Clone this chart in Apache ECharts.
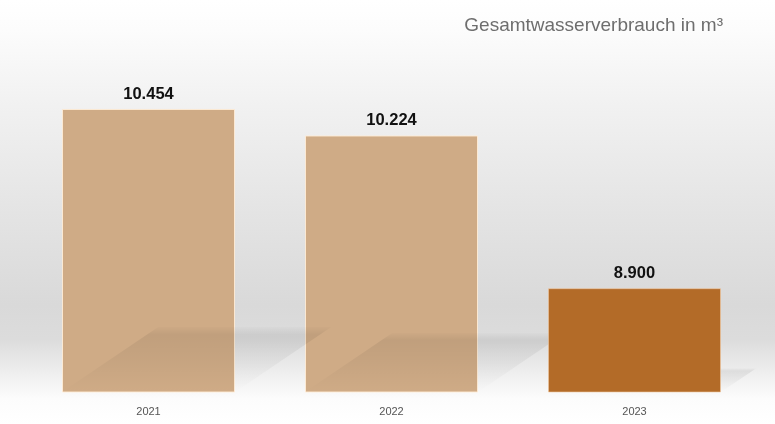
<!DOCTYPE html>
<html>
<head>
<meta charset="utf-8">
<script src="https://cdn.jsdelivr.net/npm/echarts@6/dist/echarts.min.js"></script>
<style>
html,body{margin:0;padding:0;background:#fff;}
#chart{width:775px;height:424px;}
</style>
</head>
<body>
<div id="chart"></div>
<script>
var categories = ['2021', '2022', '2023'];
var values = [10454, 10224, 8900];
var highlightIndex = 2;
var titleText = 'Gesamtwasserverbrauch in m³';
var yMin = 8000;
var yMax = 11000;

function fmt(v) { return String(v).replace(/\B(?=(\d{3})+(?!\d))/g, '.'); }

var lightData = values.map(function (v, i) { return i === highlightIndex ? '-' : v; });
var darkData = values.map(function (v, i) { return i === highlightIndex ? v : '-'; });
var pairData = values.map(function (v, i) { return [i, v]; });

var BAR_RATIO = 173 / 243;

var chart = echarts.init(document.getElementById('chart'), null, { renderer: 'canvas' });
chart.setOption({
  animation: false,
  backgroundColor: {
    type: 'linear', x: 0, y: 0, x2: 0, y2: 1,
    colorStops: [
      { offset: 0, color: '#ffffff' },
      { offset: 0.07, color: '#fcfcfc' },
      { offset: 0.25, color: '#f1f1f1' },
      { offset: 0.5, color: '#e4e4e4' },
      { offset: 0.72, color: '#d9d9d9' },
      { offset: 0.8, color: '#dcdcdc' },
      { offset: 0.9, color: '#f3f3f3' },
      { offset: 0.94, color: '#fcfcfc' },
      { offset: 1, color: '#ffffff' }
    ]
  },
  title: {
    text: titleText,
    right: 47,
    top: 11,
    textStyle: { fontFamily: 'Liberation Sans, Arial, sans-serif', fontSize: 19, fontWeight: 'normal', color: '#6e6e6e' }
  },
  grid: { left: 27, right: 19, top: 46, bottom: 32 },
  xAxis: {
    type: 'category',
    data: categories,
    axisLine: { show: false },
    axisTick: { show: false },
    axisLabel: { color: '#555', fontSize: 11, margin: 14, fontFamily: 'Liberation Sans, Arial, sans-serif' }
  },
  yAxis: {
    type: 'value', min: yMin, max: yMax, show: false,
    splitLine: { show: false }
  },
  series: [
    {
      type: 'bar',
      data: lightData,
      barWidth: (BAR_RATIO * 100) + '%',
      z: 2,
      itemStyle: { color: '#cfab86', borderColor: 'rgba(255,236,214,0.9)', borderWidth: 1 }
    },
    {
      type: 'custom',
      data: pairData,
      z: 3,
      silent: true,
      renderItem: function (params, api) {
        var i = api.value(0), v = api.value(1);
        var top = api.coord([i, v]);
        var base = api.coord([i, yMin]);
        var w = api.size([1, 0])[0] * BAR_RATIO;
        var h = base[1] - top[1];
        var dy = 0.23 * h, dx = 0.34 * h;
        var x0 = base[0] - w / 2, x1 = base[0] + w / 2, yb = base[1];
        return {
          type: 'polygon',
          shape: { points: [[x0, yb], [x1, yb], [x1 + dx, yb - dy], [x0 + dx, yb - dy]] },
          style: {
            fill: {
              type: 'linear', x: 0, y: 0, x2: 0, y2: 1,
              colorStops: [
                { offset: 0, color: 'rgba(0,0,0,0.01)' },
                { offset: 0.12, color: 'rgba(0,0,0,0.07)' },
                { offset: 0.5, color: 'rgba(0,0,0,0.045)' },
                { offset: 1, color: 'rgba(0,0,0,0.0)' }
              ]
            }
          }
        };
      }
    },
    {
      type: 'bar',
      data: darkData,
      barWidth: (BAR_RATIO * 100) + '%',
      barGap: '-100%',
      z: 4,
      itemStyle: { color: '#b36b28', borderColor: 'rgba(240,200,160,0.6)', borderWidth: 1 }
    },
    {
      type: 'custom',
      data: pairData,
      z: 5,
      silent: true,
      renderItem: function (params, api) {
        var i = api.value(0), v = api.value(1);
        var top = api.coord([i, v]);
        return {
          type: 'text',
          x: top[0],
          y: top[1] - 15,
          style: {
            text: fmt(v),
            font: 'bold 16.5px sans-serif',
            fill: '#111',
            align: 'center',
            verticalAlign: 'middle'
          }
        };
      }
    }
  ]
});
</script>
</body>
</html>
